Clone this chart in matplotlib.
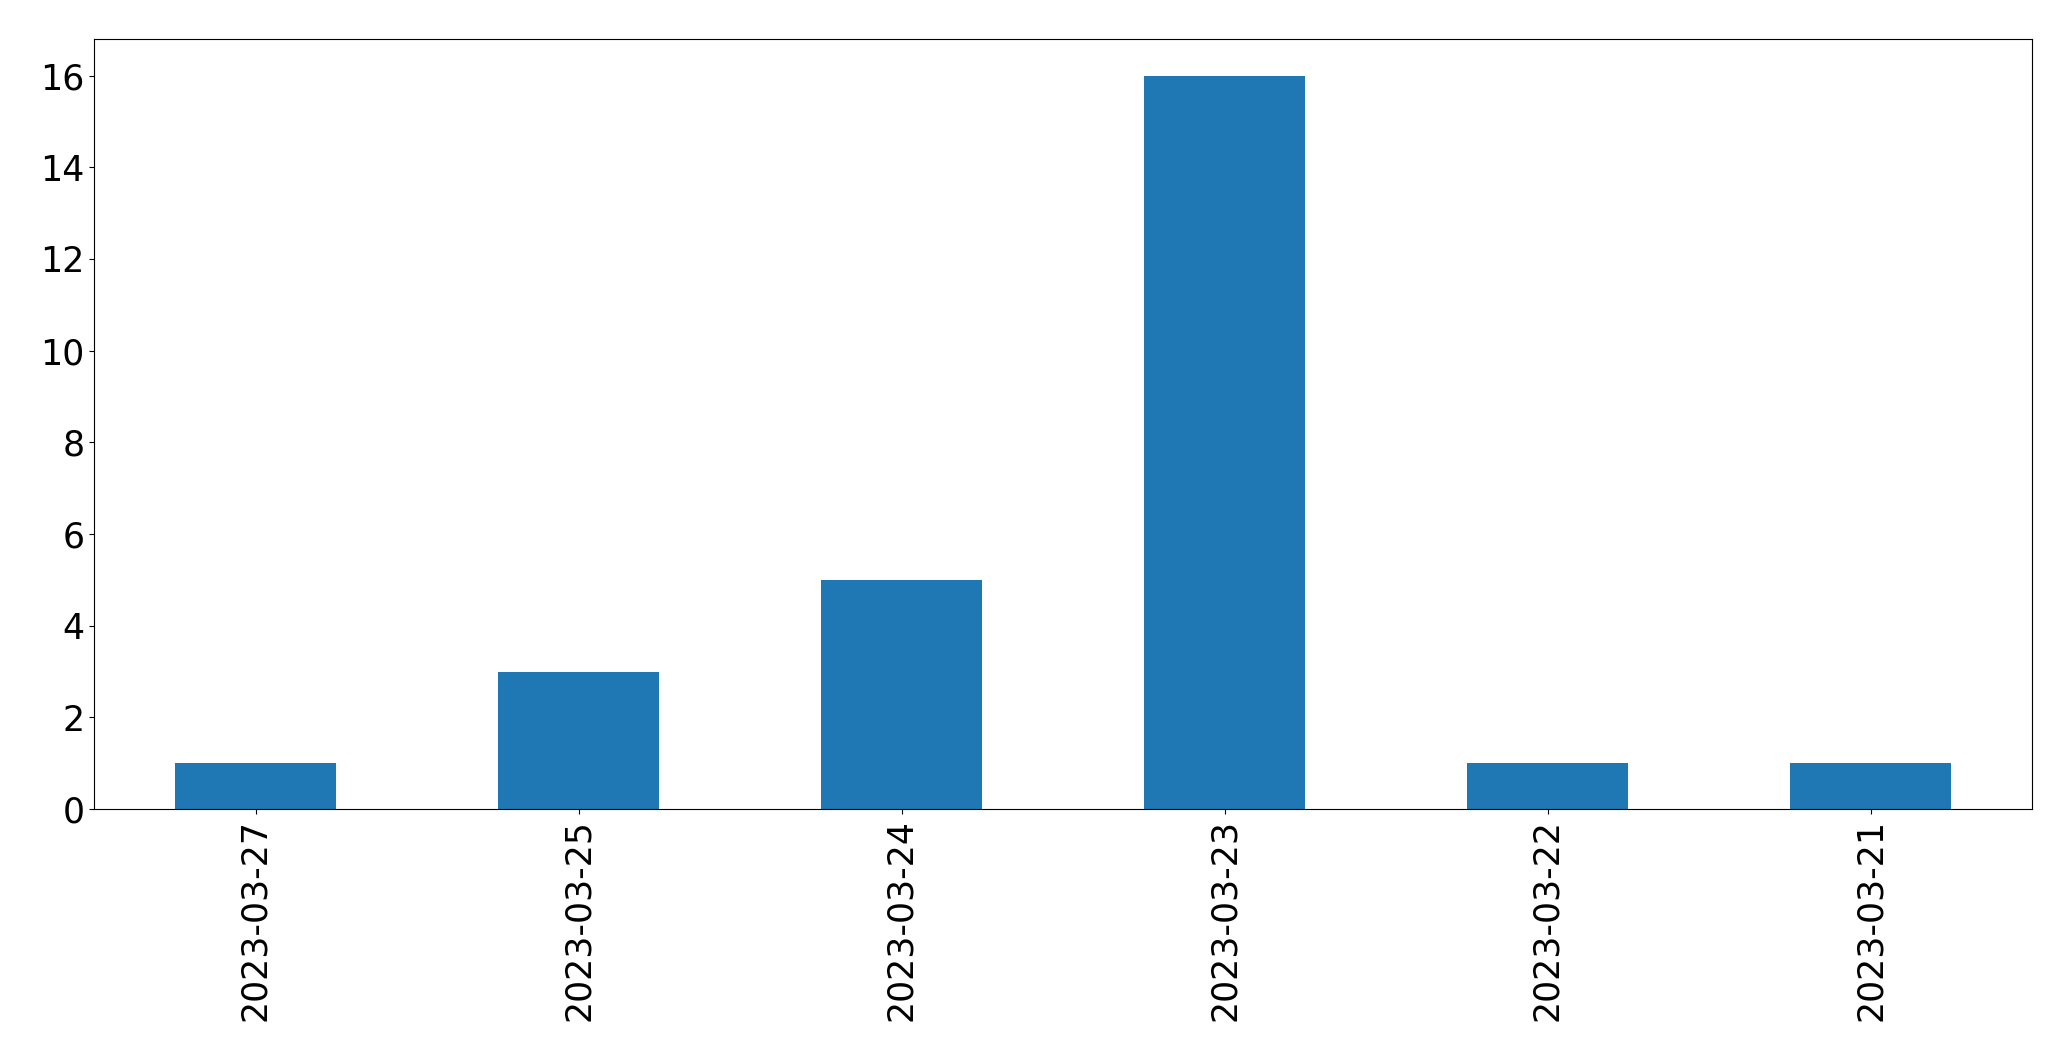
import matplotlib
matplotlib.use("Agg")
import matplotlib.pyplot as plt
import pandas as pd

dates = ["2023-03-27", "2023-03-25", "2023-03-24", "2023-03-23", "2023-03-22", "2023-03-21"]
counts = [1, 3, 5, 16, 1, 1]


def main():
    fig = plt.figure(figsize=(20.71, 10.61), dpi=100)
    ax = fig.add_axes([94 / 2071, 1 - 809 / 1061, (2032 - 94) / 2071, (809 - 39) / 1061])
    s = pd.Series(counts, index=dates)
    s.plot(kind="bar", ax=ax, color="#1f77b4")
    ax.tick_params(axis="both", labelsize=25)
    ax.set_xticklabels(dates, rotation=90)
    fig.savefig("out.png", dpi=100)


if __name__ == "__main__":
    main()
